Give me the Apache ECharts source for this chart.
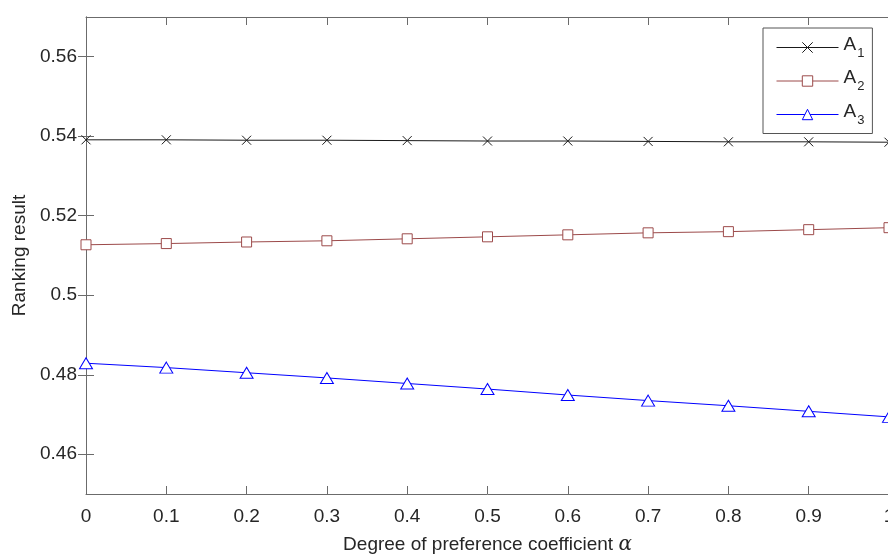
<!DOCTYPE html>
<html>
<head>
<meta charset="utf-8">
<script src="https://cdn.jsdelivr.net/npm/echarts@6/dist/echarts.min.js"></script>
<style>
  html, body { margin: 0; padding: 0; background: #fff; }
  #chart { width: 888px; height: 555px; }
</style>
</head>
<body>
<div id="chart"></div>
<script>
// preference coefficient alpha
const alphas = [0, 0.1, 0.2, 0.3, 0.4, 0.5, 0.6, 0.7, 0.8, 0.9, 1]
const seriesNames = ['A1', 'A2', 'A3']
const a1Values = [0.5391, 0.5391, 0.5390, 0.5390, 0.5389, 0.5388, 0.5388, 0.5387, 0.5386, 0.5386, 0.5385]
const a2Values = [0.5127, 0.5130, 0.5134, 0.5137, 0.5142, 0.5147, 0.5152, 0.5157, 0.5160, 0.5165, 0.5170]
const a3Values = [0.4829, 0.4818, 0.4805, 0.4792, 0.4778, 0.4764, 0.4749, 0.4735, 0.4722, 0.4708, 0.4694]
const yTicks = [0.46, 0.48, 0.5, 0.52, 0.54, 0.56]

const FONT = '"Liberation Sans", Arial, sans-serif'
const AXIS_COLOR = '#6b6b6b'
const TEXT_COLOR = '#262626'
// marker outlines, drawn with a 1px stroke
const CROSS = 'path://M0,0L10,10M10,0L0,10'
const SQUARE = 'path://M0,0H10V10H0Z'
const TRIANGLE = 'path://M6,0L12,10H0Z'

const pairs = (ys) => alphas.map((x, i) => [x, ys[i]])

const chart = echarts.init(document.getElementById('chart'))

const baseX = {
  type: 'value',
  min: 0,
  max: 1,
  interval: 0.1,
  axisLine: { show: true, lineStyle: { color: AXIS_COLOR, width: 1 } },
  axisTick: { show: true, inside: true, length: 8, lineStyle: { color: AXIS_COLOR } },
  splitLine: { show: false }
}

const baseY = {
  type: 'value',
  min: 0.45,
  max: 0.57,
  axisLine: { show: true, lineStyle: { color: AXIS_COLOR, width: 1 } },
  axisTick: { show: true, inside: true, length: 8, customValues: yTicks, lineStyle: { color: AXIS_COLOR } },
  splitLine: { show: false }
}

const lineSeries = (name, values, color, symbol, size) => ({
  name,
  type: 'line',
  data: pairs(values),
  symbol,
  symbolSize: size,
  showAllSymbol: true,
  lineStyle: { color, width: 1 },
  itemStyle: { color: '#fff', borderColor: color, borderWidth: 1 },
  emphasis: { disabled: true },
  animation: false
})

chart.setOption({
  backgroundColor: '#fff',
  textStyle: { fontFamily: FONT },
  grid: { left: 86, top: 17, width: 803, height: 477, containLabel: false, outerBoundsMode: 'none' },
  legend: {
    orient: 'vertical',
    left: 763,
    top: 28,
    padding: [7, 8, 7, 13],
    itemWidth: 62,
    itemHeight: 13,
    itemGap: 9,
    backgroundColor: '#fff',
    borderColor: '#555',
    borderWidth: 1,
    borderRadius: 0,
    itemStyle: { borderWidth: 1 },
    lineStyle: { width: 1 },
    data: seriesNames,
    formatter: (name) => '{a|A}{s|' + name.slice(1) + '}',
    textStyle: {
      color: TEXT_COLOR,
      rich: {
        a: { fontSize: 19, fontFamily: FONT, color: TEXT_COLOR, padding: [0, 0, 6, 0] },
        s: { fontSize: 13, fontFamily: FONT, color: TEXT_COLOR, padding: [11, 0, 0, 1] }
      }
    }
  },
  xAxis: [
    {
      ...baseX,
      position: 'bottom',
      name: '{t|Degree of preference coefficient }{g|α}',
      nameLocation: 'middle',
      nameGap: 41,
      nameTextStyle: {
        rich: {
          t: { fontSize: 19, fontFamily: FONT, color: TEXT_COLOR },
          g: { fontSize: 20, fontFamily: '"DejaVu Serif", "Liberation Serif", serif', fontStyle: 'italic', color: TEXT_COLOR }
        }
      },
      axisLabel: { show: true, margin: 13, fontSize: 19, color: TEXT_COLOR, fontFamily: FONT, hideOverlap: false }
    },
    {
      ...baseX,
      position: 'top',
      axisLabel: { show: false }
    }
  ],
  yAxis: [
    {
      ...baseY,
      position: 'left',
      name: 'Ranking result',
      nameLocation: 'middle',
      nameGap: 57,
      nameTextStyle: { fontSize: 19, color: TEXT_COLOR, fontFamily: FONT },
      axisLabel: { show: true, margin: 9, fontSize: 19, color: TEXT_COLOR, fontFamily: FONT, customValues: yTicks }
    },
    {
      ...baseY,
      position: 'right',
      axisLabel: { show: false }
    }
  ],
  series: [
    lineSeries('A1', a1Values, '#1a1a1a', CROSS, 9),
    lineSeries('A2', a2Values, '#9c4a4a', SQUARE, 10),
    lineSeries('A3', a3Values, '#0000ff', TRIANGLE, [13, 11])
  ]
})

window.addEventListener('resize', () => {
  chart.resize()
})
</script>
</body>
</html>
